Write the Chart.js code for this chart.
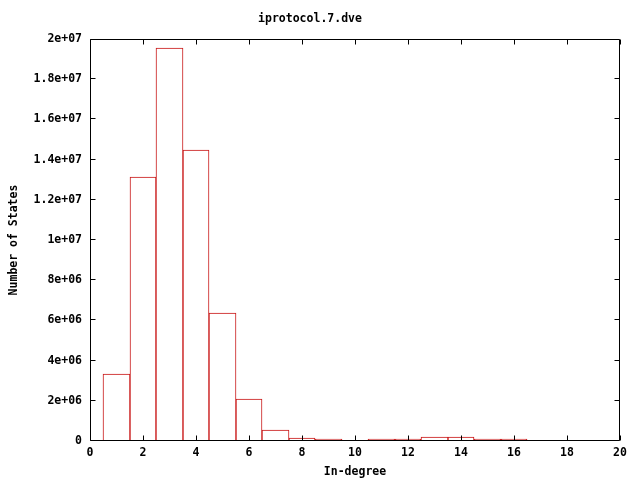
<!DOCTYPE html>
<html>
<head>
<meta charset="utf-8">
<script src="https://cdn.jsdelivr.net/npm/chart.js@4"></script>
<style>
  html, body { margin: 0; padding: 0; background: #ffffff; }
  canvas { display: block; }
</style>
</head>
<body>
<canvas id="c" width="640" height="480"></canvas>
<script>
// ---- data ----
const chartTitle = 'iprotocol.7.dve';
const xLabel = 'In-degree';
const yLabel = 'Number of States';
const inDegree = [1, 2, 3, 4, 5, 6, 7, 8, 9, 10, 11, 12, 13, 14, 15, 16, 17, 18, 19];
const numStates = [3300000, 13130000, 19550000, 14470000, 6350000, 2050000, 520000, 100000, 50000, 0,
                   70000, 70000, 170000, 170000, 50000, 50000, 0, 0, 0];
const xTicks = [0, 2, 4, 6, 8, 10, 12, 14, 16, 18, 20];
const yTicks = [0, 2e6, 4e6, 6e6, 8e6, 1e7, 1.2e7, 1.4e7, 1.6e7, 1.8e7, 2e7];
const yTickLabels = ['0', '2e+06', '4e+06', '6e+06', '8e+06', '1e+07', '1.2e+07', '1.4e+07', '1.6e+07', '1.8e+07', '2e+07'];

const FONT = { family: '"DejaVu Sans Mono", "Liberation Mono", monospace', size: 11.5, weight: 'bold', lineHeight: 1.2 };
const BAR_COLOR = '#c81414';

// snap bar edges produced by the scales to whole pixels so outlines stay crisp
const snapPlugin = {
  id: 'snapBars',
  beforeDatasetsDraw(chart) {
    chart.getSortedVisibleDatasetMetas().forEach(meta => {
      meta.data.forEach(el => {
        const l = Math.round(el.x - el.width / 2);
        const r = Math.round(el.x + el.width / 2);
        el.x = (l + r) / 2;
        el.width = r - l;
        el.y = Math.floor(el.y + 1e-6);
        el.base = Math.round(el.base);
      });
    });
  }
};

const framePlugin = {
  id: 'gnuplotFrame',
  afterDatasetsDraw(chart) {
    const { ctx, chartArea: a, scales } = chart;
    ctx.save();
    ctx.strokeStyle = '#000000';
    ctx.lineWidth = 1;
    const L = Math.round(a.left) + 0.5, R = Math.round(a.right) - 0.5;
    const T = Math.round(a.top) + 0.5, B = Math.round(a.bottom) - 0.5;
    ctx.beginPath();
    ctx.rect(L, T, R - L, B - T);
    const tl = 5;
    xTicks.forEach(v => {
      const px = Math.round(scales.x.getPixelForValue(v)) + 0.5;
      ctx.moveTo(px, B); ctx.lineTo(px, B - tl);
      ctx.moveTo(px, T); ctx.lineTo(px, T + tl);
    });
    yTicks.forEach(v => {
      const py = Math.min(B, Math.max(T, Math.round(scales.y.getPixelForValue(v)) - 0.5));
      ctx.moveTo(L, py); ctx.lineTo(L + tl, py);
      ctx.moveTo(R, py); ctx.lineTo(R - tl, py);
    });
    ctx.stroke();
    ctx.restore();
  }
};

new Chart(document.getElementById('c'), {
  type: 'bar',
  data: {
    datasets: [{
      data: inDegree.map((x, i) => ({ x: x, y: numStates[i] })),
      backgroundColor: '#ffffff',
      borderColor: BAR_COLOR,
      borderWidth: 1,
      borderSkipped: false,
      barPercentage: 1.0,
      categoryPercentage: 1.0
    }]
  },
  options: {
    responsive: false,
    animation: false,
    layout: { padding: { left: 0, right: 20, top: 0, bottom: 0 } },
    plugins: {
      legend: { display: false },
      tooltip: { enabled: false },
      title: {
        display: true,
        text: chartTitle,
        color: '#000000',
        font: FONT,
        padding: { top: 12, bottom: 13.2 }
      }
    },
    scales: {
      x: {
        type: 'linear',
        min: 0, max: 20,
        offset: false,
        grid: { display: false, offset: false, drawTicks: false },
        border: { display: false },
        afterBuildTicks(scale) { scale.ticks = xTicks.map(v => ({ value: v })); },
        ticks: { color: '#000000', font: FONT, padding: 5, maxRotation: 0, autoSkip: false },
        title: { display: true, text: xLabel, color: '#000000', font: FONT, padding: { top: 0, bottom: 1 } },
        afterFit(scale) { scale.height = 39; }
      },
      y: {
        min: 0, max: 2e7,
        grid: { display: false, drawTicks: false },
        border: { display: false },
        afterBuildTicks(scale) { scale.ticks = yTicks.map(v => ({ value: v })); },
        ticks: {
          color: '#000000', font: FONT, padding: 8, autoSkip: false,
          callback: (v, i) => yTickLabels[i]
        },
        title: { display: true, text: yLabel, color: '#000000', font: FONT, padding: { top: 7, bottom: 0 } },
        afterFit(scale) { scale.width = 90; }
      }
    }
  },
  plugins: [snapPlugin, framePlugin]
});
</script>
</body>
</html>
